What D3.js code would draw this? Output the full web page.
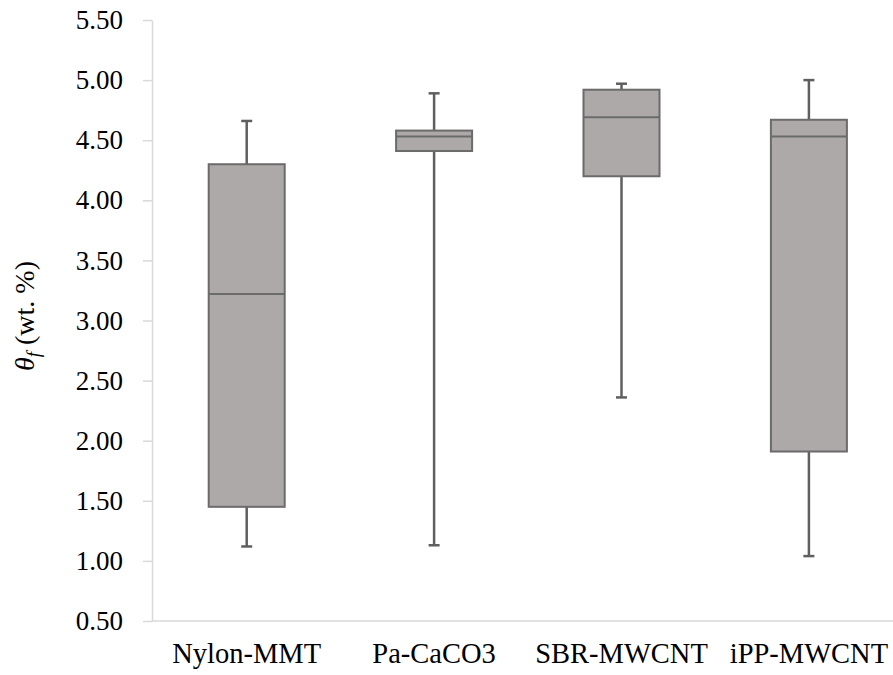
<!DOCTYPE html>
<html>
<head>
<meta charset="utf-8">
<script src="https://cdn.jsdelivr.net/npm/d3@7/dist/d3.min.js"></script>
<style>
  body { margin: 0; background: #fff; }
  svg text { font-family: "Liberation Serif", "Times New Roman", Times, "DejaVu Serif", serif !important; }
</style>
</head>
<body>
<div id="chart"></div>
<script>
var svgWidth = 893;
var svgHeight = 675;
var fontFamily = "'Liberation Serif', 'Times New Roman', Times, 'DejaVu Serif', serif";

// Data
var categories = ["Nylon-MMT", "Pa-CaCO3", "SBR-MWCNT", "iPP-MWCNT"];
var mins    = [1.12, 1.13, 2.36, 1.04];
var q1s     = [1.45, 4.41, 4.20, 1.91];
var medians = [3.22, 4.53, 4.69, 4.53];
var q3s     = [4.30, 4.58, 4.92, 4.67];
var maxs    = [4.66, 4.89, 4.97, 5.00];
var yTicks  = [0.5, 1, 1.5, 2, 2.5, 3, 3.5, 4, 4.5, 5, 5.5];

var margin = { top: 20, right: 0, bottom: 54, left: 152 };
var plotWidth = svgWidth - margin.left - margin.right;
var plotHeight = svgHeight - margin.top - margin.bottom;

var svg = d3.select("#chart")
  .append("svg")
  .attr("width", svgWidth)
  .attr("height", svgHeight)
  .attr("font-family", fontFamily);

var plot = svg.append("g")
  .attr("transform", `translate(${margin.left}, ${margin.top})`);

var boxes = categories.map(function(c, i) {
  return { name: c, min: mins[i], q1: q1s[i], median: medians[i], q3: q3s[i], max: maxs[i] };
});

// the last category runs a little past the right edge of the picture
var xScale = d3.scaleBand().domain(categories).range([1, 1 + 4 * 187.4]);
var yScale = d3.scaleLinear().domain([0.5, 5.5]).range([plotHeight, 0]);

// axes
var leftAxis = d3.axisLeft(yScale)
  .tickValues(yTicks)
  .tickFormat(d3.format(".2f"))
  .tickSizeOuter(0)
  .tickSizeInner(9)
  .tickPadding(20);

var yAxisG = plot.append("g").call(leftAxis).attr("font-family", fontFamily);
yAxisG.select(".domain").attr("stroke", "#d9d9d9").attr("stroke-width", 1.5);
yAxisG.selectAll(".tick line").attr("stroke", "#d9d9d9").attr("stroke-width", 1.5);
yAxisG.selectAll(".tick text")
  .attr("fill", "#000")
  .attr("font-family", fontFamily)
  .style("font-size", "27px");

var bottomAxis = d3.axisBottom(xScale).tickSize(0).tickPadding(22);
var xAxisG = plot.append("g")
  .attr("transform", `translate(0, ${plotHeight})`)
  .call(bottomAxis)
  .attr("font-family", fontFamily);
xAxisG.select(".domain").remove();
xAxisG.append("line")
  .attr("x1", 0).attr("x2", plotWidth)
  .attr("stroke", "#d9d9d9").attr("stroke-width", 1.5);
xAxisG.selectAll(".tick text")
  .attr("fill", "#000")
  .attr("font-family", fontFamily)
  .style("font-size", "28.5px");

// box plots
var boxWidth = 76;
var capWidth = 11;

var groups = plot.selectAll(".box")
  .data(boxes)
  .enter()
  .append("g")
  .attr("class", "box")
  .attr("transform", d => `translate(${xScale(d.name) + xScale.bandwidth() / 2}, 0)`);

// whiskers
groups.append("line")
  .attr("x1", 0).attr("x2", 0)
  .attr("y1", d => yScale(d.max))
  .attr("y2", d => yScale(d.q3))
  .attr("stroke", "#5f5f5f").attr("stroke-width", 2.5);
groups.append("line")
  .attr("x1", 0).attr("x2", 0)
  .attr("y1", d => yScale(d.q1))
  .attr("y2", d => yScale(d.min))
  .attr("stroke", "#5f5f5f").attr("stroke-width", 2.5);
groups.append("line")
  .attr("x1", -capWidth / 2).attr("x2", capWidth / 2)
  .attr("y1", d => yScale(d.max)).attr("y2", d => yScale(d.max))
  .attr("stroke", "#5f5f5f").attr("stroke-width", 2.5);
groups.append("line")
  .attr("x1", -capWidth / 2).attr("x2", capWidth / 2)
  .attr("y1", d => yScale(d.min)).attr("y2", d => yScale(d.min))
  .attr("stroke", "#5f5f5f").attr("stroke-width", 2.5);

// box
groups.append("rect")
  .attr("x", -boxWidth / 2)
  .attr("width", boxWidth)
  .attr("y", d => yScale(d.q3))
  .attr("height", d => yScale(d.q1) - yScale(d.q3))
  .attr("fill", "#ada9a8")
  .attr("stroke", "#6b6b6b")
  .attr("stroke-width", 2);

// median
groups.append("line")
  .attr("x1", -boxWidth / 2).attr("x2", boxWidth / 2)
  .attr("y1", d => yScale(d.median)).attr("y2", d => yScale(d.median))
  .attr("stroke", "#6b6b6b").attr("stroke-width", 2);

// y label
var yLabel = svg.append("text")
  .attr("transform", `translate(34, 316) rotate(-90)`)
  .attr("text-anchor", "middle")
  .attr("font-family", fontFamily)
  .style("font-size", "28px")
  .attr("fill", "#000");
yLabel.append("tspan").style("font-style", "italic").text("θ");
yLabel.append("tspan").style("font-style", "italic").style("font-size", "19px").attr("dy", 6).text("f");
yLabel.append("tspan").attr("dy", -6).text(" (wt. %)");
</script>
</body>
</html>
